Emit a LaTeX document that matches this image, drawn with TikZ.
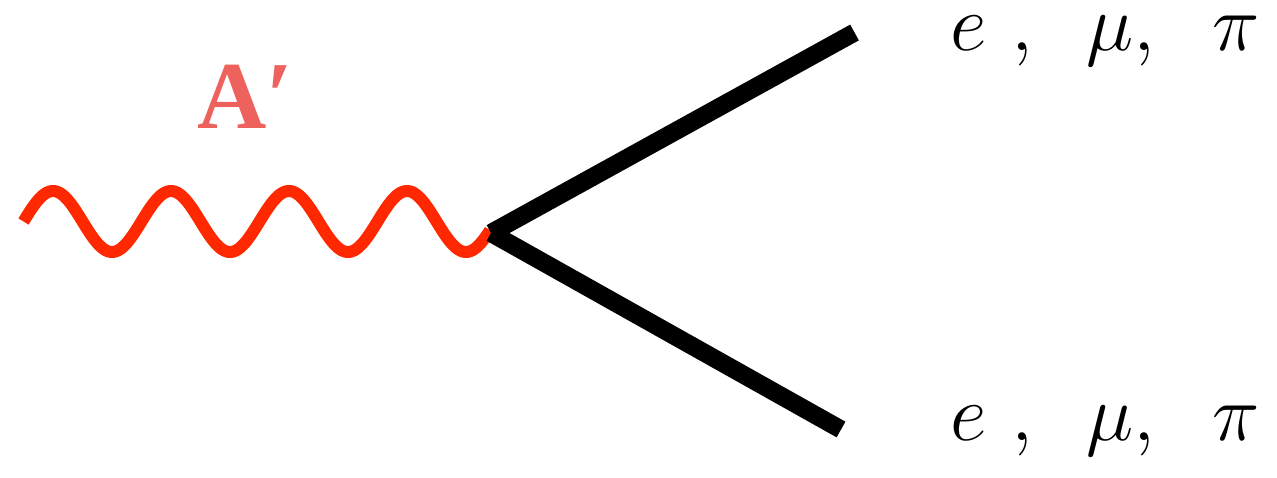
\RequirePackage{fix-cm}
\documentclass[tikz,border=0pt]{standalone}
\usepackage{fontspec}
\newfontfamily\timesbold[BoldFont={Liberation Serif Bold}]{Liberation Serif}
\definecolor{wavered}{RGB}{255,40,0}
\definecolor{labelred}{RGB}{238,98,94}
\tikzset{
  photon/.style={wavered, line width=12pt, line cap=butt},
  fermion/.style={black, line width=18pt, line cap=butt},
  prodlabel/.style={anchor=base west, inner sep=0pt, font=\fontsize{80}{86}\selectfont},
  alabel/.style={anchor=base west, inner sep=0pt, text=labelred, font=\fontsize{96}{100}\timesbold\bfseries}
}
\begin{document}
\begin{tikzpicture}[x=1pt, y=-1pt]
\useasboundingbox (0,0) rectangle (1277,478);
\coordinate (start) at (23.5,221.5);
\coordinate (v) at (491,233);
\coordinate (top) at (854.5,32.5);
\coordinate (bot) at (841,429.5);
\draw[photon] (start) plot[domain=23.5:490, samples=240, smooth] (\x, {221.5 - 30.5*sin(3.050847*(\x-23.5))});
\draw[fermion] (v) -- (top);
\draw[fermion] (v) -- (bot);
\node[alabel] (aprime) at (197,129) {A′};
\node[prodlabel] (outtop) at (950,51) {$e$\hspace*{25pt}$,$\hspace*{53pt}$\mu,$\hspace*{58pt}$\pi$};
\node[prodlabel] (outbot) at (950,440) {$e$\hspace*{25pt}$,$\hspace*{53pt}$\mu,$\hspace*{58pt}$\pi$};
\end{tikzpicture}
\end{document}
